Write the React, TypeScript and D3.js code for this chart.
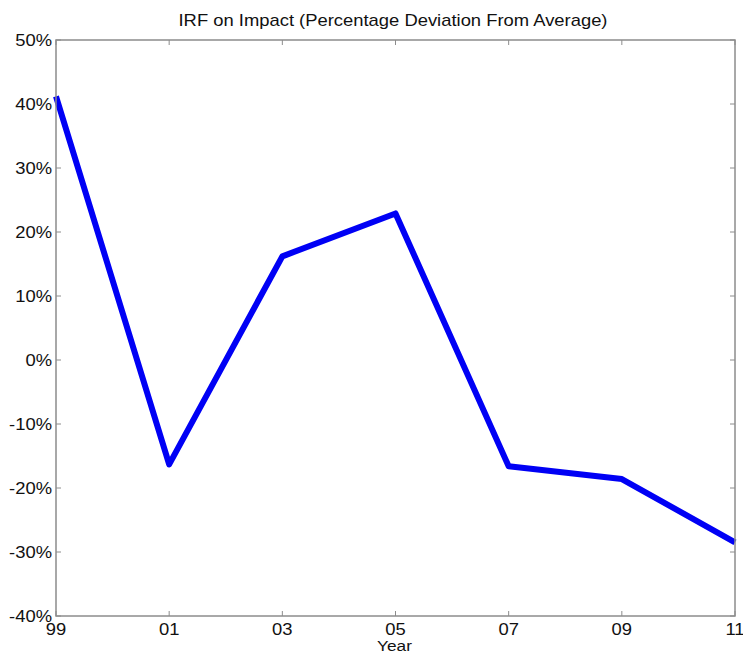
import React from 'react'
import * as d3 from 'd3'

const years = ['99', '01', '03', '05', '07', '09', '11']
const irf = [41.2, -16.3, 16.2, 22.9, -16.6, -18.6, -28.5]
const yTicks = [50, 40, 30, 20, 10, 0, -10, -20, -30, -40]

const width = 743
const height = 654
const margin = { top: 40, right: 8, bottom: 38, left: 56 }

// the original picture is a little stretched sideways, so text is widened too
const stretch = 1.15

function Label(props: { x: number; y: number; size: number; anchor?: string; dy?: string; children: React.ReactNode }) {
  return (
    <text
      transform={`translate(${props.x},${props.y}) scale(${stretch},1)`}
      textAnchor={props.anchor || 'middle'}
      dy={props.dy}
      fontSize={props.size}
      fill="#111"
    >
      {props.children}
    </text>
  )
}

export default function App() {
  const innerW = width - margin.left - margin.right
  const innerH = height - margin.top - margin.bottom

  const x = d3.scalePoint<string>().domain(years).range([0, innerW])
  const y = d3.scaleLinear().domain([-40, 50]).range([innerH, 0])

  const line = d3.line<number>()
    .x((_, i) => x(years[i])!)
    .y(d => y(d))

  const axisColor = '#8c8c8c'
  const font = 'Liberation Sans, Arial, sans-serif'

  return (
    <svg
      width={width}
      height={height}
      style={{ position: 'absolute', left: 0, top: 0, background: '#fff' }}
      fontFamily={font}
    >
      <Label x={393} y={26} size={16}>IRF on Impact (Percentage Deviation From Average)</Label>
      <g transform={`translate(${margin.left},${margin.top})`}>
        {years.map(t => (
          <g key={t}>
            <line x1={x(t)} x2={x(t)} y1={innerH} y2={innerH - 5} stroke={axisColor} />
            <line x1={x(t)} x2={x(t)} y1={0} y2={5} stroke={axisColor} />
            <Label x={x(t)!} y={innerH + 19} size={16}>{t}</Label>
          </g>
        ))}
        {yTicks.map(t => (
          <g key={t}>
            <line x1={0} x2={5} y1={y(t)} y2={y(t)} stroke={axisColor} />
            <line x1={innerW} x2={innerW - 5} y1={y(t)} y2={y(t)} stroke={axisColor} />
            <Label x={-4} y={y(t)} size={16} anchor="end" dy="0.35em">{t}%</Label>
          </g>
        ))}
        <path d={line(irf)!} fill="none" stroke="#0000f5" strokeWidth={6} strokeLinejoin="round" />
        <rect x={0} y={0} width={innerW} height={innerH} fill="none" stroke={axisColor} strokeWidth={1.5} />
        <Label x={innerW / 2 - 1} y={innerH + 35} size={15}>Year</Label>
      </g>
    </svg>
  )
}
